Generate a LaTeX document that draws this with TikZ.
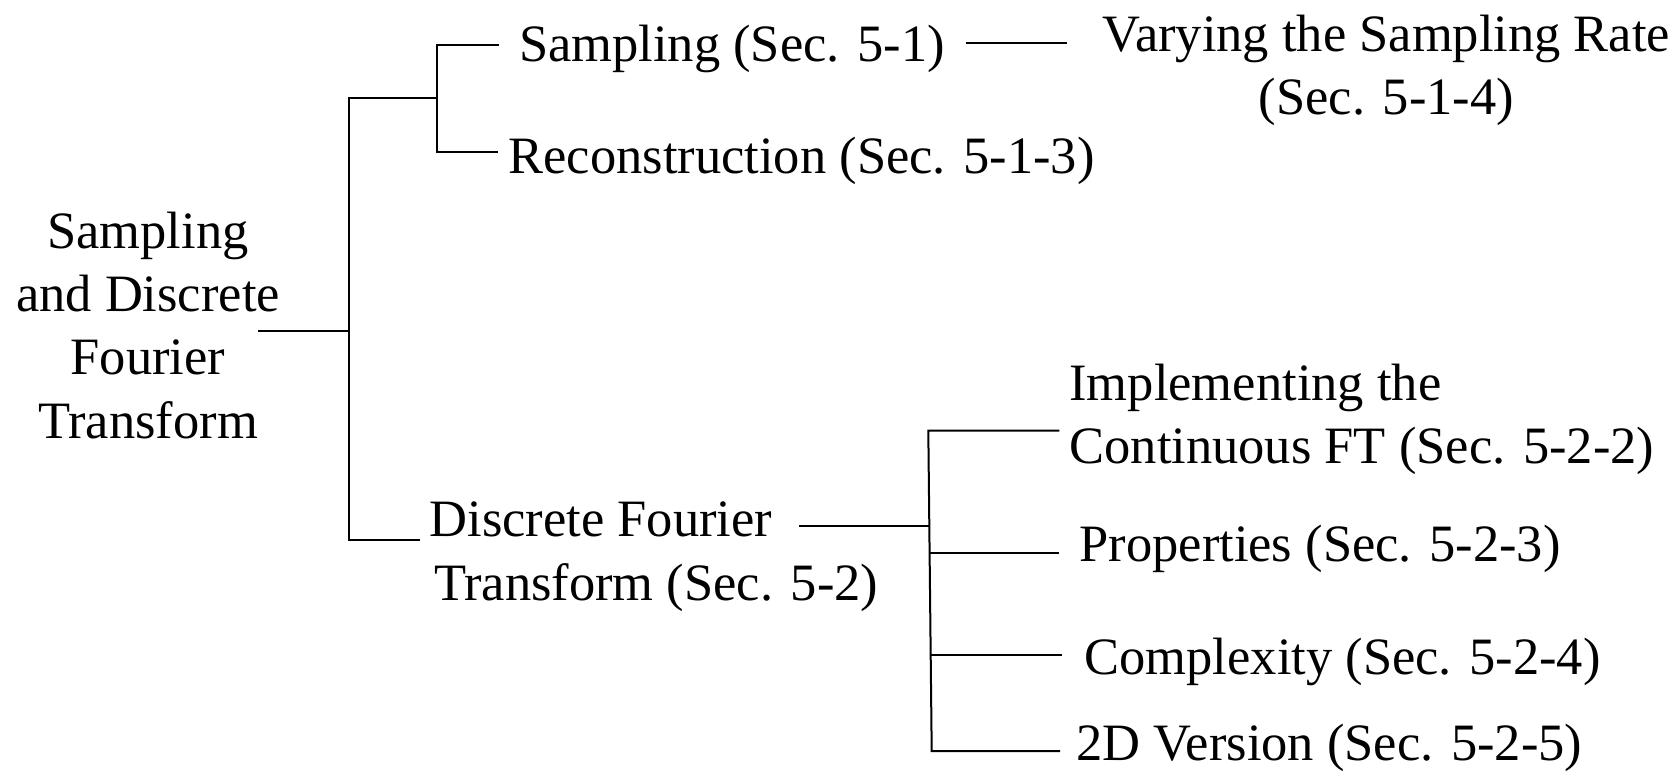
\documentclass[tikz,border=0pt]{standalone}
\usepackage{fontspec}
\setmainfont{Liberation Serif}
\newcommand{\lstack}[2][l]{\begin{tabular}[t]{@{}#1@{}}#2\end{tabular}}
\begin{document}
\begin{tikzpicture}[x=1pt,y=-1pt,
  lbl/.style={inner sep=0pt,outer sep=0pt,font=\fontsize{52.5}{63.3}\selectfont},
  leftlbl/.style={lbl,anchor=base west},
  ctrlbl/.style={lbl,anchor=base},
  link/.style={line width=2pt,line cap=rect}]
\useasboundingbox (0,0) rectangle (1677,773);
% text nodes
\node[ctrlbl] (root) at (148,248.3) {\lstack[c]{Sampling\\and Discrete\\Fourier\\Transform}};
\node[leftlbl] (samp) at (519,61.7) {Sampling (Sec. 5-1)};
\node[leftlbl] (recon) at (508.5,173.3) {Reconstruction (Sec. 5-1-3)};
\node[ctrlbl] (vary) at (1386.5,51.7) {\lstack[c]{Varying the Sampling Rate\\(Sec. 5-1-4)}};
\node[leftlbl] (dft) at (429.5,536.7) {\lstack{Discrete Fourier\\\hspace*{4.5pt}Transform (Sec. 5-2)}};
\node[leftlbl] (impl) at (1069.5,400) {\lstack{Implementing the\\Continuous FT (Sec. 5-2-2)}};
\node[leftlbl] (prop) at (1079.5,561.7) {Properties (Sec. 5-2-3)};
\node[leftlbl] (comp) at (1084.5,674) {Complexity (Sec. 5-2-4)};
\node[leftlbl] (twod) at (1076.5,760.5) {2D Version (Sec. 5-2-5)};
% junction coordinates
\coordinate (rootout) at (259.3,330.7);
\coordinate (m1) at (349.3,330.7);
\coordinate (mtop) at (349.3,98.3);
\coordinate (mbot) at (349.3,540);
\coordinate (b1) at (436.7,98.3);
\coordinate (b1top) at (436.7,45.3);
\coordinate (b1bot) at (436.7,152.3);
\coordinate (sampin) at (498.3,45.3);
\coordinate (reconin) at (496.7,152.3);
\coordinate (dftin) at (419,540);
\coordinate (sampout) at (966.7,43.3);
\coordinate (varyin) at (1065.7,43.3);
\coordinate (dftout) at (800,525.7);
\coordinate (d1) at (929.3,525.7);
\coordinate (dtop) at (928.3,430.7);
\coordinate (dprop) at (929.6,552.7);
\coordinate (dcomp) at (930.7,655);
\coordinate (dbot) at (931.7,751);
\coordinate (implin) at (1058.3,430.7);
\coordinate (propin) at (1058.3,552.7);
\coordinate (compin) at (1061,655);
\coordinate (twodin) at (1059,751);
% connectors
\draw[link] (rootout) -- (m1);
\draw[link] (b1) -- (mtop) -- (mbot) -- (dftin);
\draw[link] (sampin) -- (b1top) -- (b1bot) -- (reconin);
\draw[link] (sampout) -- (varyin);
\draw[link] (dftout) -- (d1);
\draw[link] (implin) -- (dtop) -- (dbot) -- (twodin);
\draw[link] (dprop) -- (propin);
\draw[link] (dcomp) -- (compin);
\end{tikzpicture}
\end{document}
